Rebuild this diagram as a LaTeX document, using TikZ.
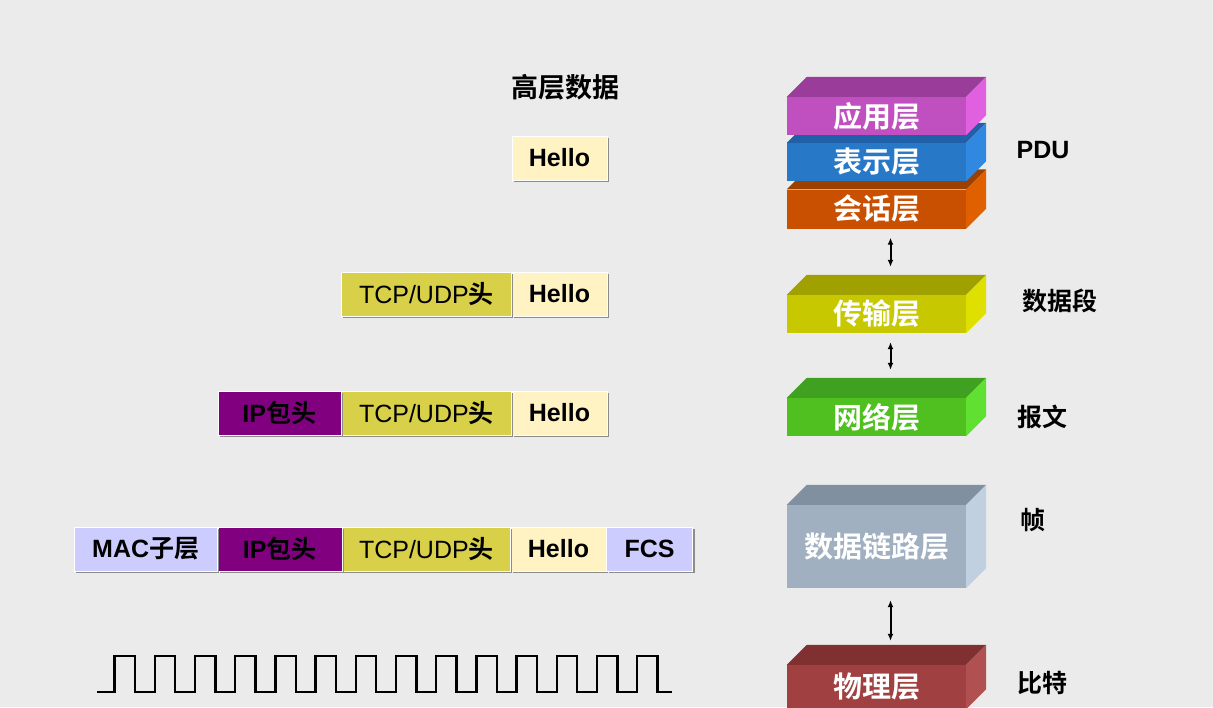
\documentclass[tikz,border=0pt]{standalone}
\usepackage{fontspec}
\setmainfont{Liberation Sans}
\newfontfamily\cjk{Noto Sans CJK SC}[BoldFont={* Bold}]
\usetikzlibrary{positioning,calc,arrows.meta}
\definecolor{bgcol}{HTML}{EBEBEB}
\definecolor{hellocol}{HTML}{FFF3C4}
\definecolor{tcpcol}{HTML}{D8D048}
\definecolor{ipcol}{HTML}{800080}
\definecolor{maccol}{HTML}{CCCCFF}
\tikzset{
  pdu/.style={
    rectangle,
    minimum height=44pt,
    inner sep=0pt,
    font=\fontsize{25}{28}\selectfont,
    draw=white, line width=0.6pt,
    },
  shadowed/.style={preaction={fill=black!45,transform canvas={shift={(2pt,-2pt)}}}},
  layerbox/.style={
    rectangle, inner sep=0pt,
    minimum width=179pt,
    text=white,
    font=\cjk\bfseries\fontsize{29}{32}\selectfont
    },
  unitlabel/.style={font=\cjk\bfseries\fontsize{25}{28}\selectfont},
  updown/.style={{Latex[length=7pt,width=6pt]}-{Latex[length=7pt,width=6pt]}, line width=2pt}
}
\newcommand\osilayer[7]{% name, position, height, front, top, side, text
  \definecolor{#1front}{HTML}{#4}\definecolor{#1top}{HTML}{#5}\definecolor{#1side}{HTML}{#6}%
  \node[layerbox,fill=#1front,minimum height=#3] (#1) at #2 {#7};
  \fill[#1top] (#1.north west) -- ++(20,-20) -- ([shift={(20,-20)}]#1.north east) -- (#1.north east) -- cycle;
  \fill[#1side] (#1.north east) -- ++(20,-20) -- ([shift={(20,-20)}]#1.south east) -- (#1.south east) -- cycle;
}
\newcommand\tcphead{TCP/UDP{\cjk\bfseries 头}}
\newcommand\iphead{\textbf{IP}{\cjk\bfseries 包头}}
\begin{document}
\begin{tikzpicture}[x=1pt,y=-1pt]
  \fill[bgcol] (0,0) rectangle (1213,707);
  \useasboundingbox (0,0) rectangle (1213,707);

  % data units
  \node[font=\cjk\bfseries\fontsize{27}{30}\selectfont] (hdata) at (565,87) {高层数据};
  \node[pdu,shadowed,fill=hellocol,minimum width=95pt] (hello1) at (559.5,158) {\textbf{Hello}};

  \node[pdu,shadowed,fill=hellocol,minimum width=95pt] (hello2) at (559.5,294) {\textbf{Hello}};
  \node[pdu,shadowed,fill=tcpcol,minimum width=170pt,left=0pt of hello2] (tcp2) {\tcphead};

  \node[pdu,shadowed,fill=hellocol,minimum width=95pt] (hello3) at (559.5,413) {\textbf{Hello}};
  \node[pdu,shadowed,fill=tcpcol,minimum width=170pt,left=0pt of hello3] (tcp3) {\tcphead};
  \node[pdu,shadowed,fill=ipcol,minimum width=123pt,left=0pt of tcp3] (ip3) {\iphead};

  \node[pdu,shadowed,fill=hellocol,minimum width=95pt] (hello4) at (558.5,549) {\textbf{Hello}};
  \node[pdu,shadowed,fill=tcpcol,minimum width=168pt,left=0pt of hello4] (tcp4) {\tcphead};
  \node[pdu,shadowed,fill=ipcol,minimum width=124pt,left=0pt of tcp4] (ip4) {\iphead};
  \node[pdu,shadowed,fill=maccol,minimum width=143pt,left=0pt of ip4] (mac4) {\textbf{MAC}{\cjk\bfseries 子层}};
  \node[pdu,shadowed,fill=maccol,minimum width=86pt,right=0pt of hello4] (fcs4) {\textbf{FCS}};

  % bit stream
  \draw[line width=2.4pt] (97,692)
    \foreach \k in {0,...,13} { -| ({114.5+40.2*\k},656) -| ({135+40.2*\k},692) } -- (672,692);

  % layers
  \osilayer{ses}{(876.5,209)}{39pt}{C85000}{9C4000}{E06000}{会话层}
  \osilayer{pre}{(876.5,162)}{38pt}{2878C8}{2060A8}{3088E0}{表示层}
  \osilayer{app}{(876.5,116)}{38pt}{C04FC0}{9A3D9A}{E060E0}{应用层}
  \osilayer{tra}{(876.5,314)}{38pt}{C8C800}{A0A000}{E0E000}{传输层}
  \osilayer{net}{(876.5,417)}{38pt}{50C020}{40A020}{60E030}{网络层}
  \osilayer{dll}{(876.5,546.5)}{83pt}{A0B0C0}{8090A0}{C0D0E0}{数据链路层}
  \osilayer{phy}{(876.5,687)}{44pt}{A04040}{803030}{B05050}{物理层}

  \draw[updown] ([xshift=14pt,yshift=-9pt]ses.south) -- ([xshift=14pt,yshift=28pt]tra.north);
  \draw[updown] ([xshift=14pt,yshift=-9pt]tra.south) -- ([xshift=14pt,yshift=28pt]net.north);
  \draw[updown] ([xshift=14pt,yshift=-12pt]dll.south) -- ([xshift=14pt,yshift=24pt]phy.north);

  % unit names
  \node[font=\bfseries\fontsize{25}{28}\selectfont] (lpdu) at (1043,150) {PDU};
  \node[unitlabel] (lseg) at (1060,301) {数据段};
  \node[unitlabel] (lpkt) at (1042,417) {报文};
  \node[unitlabel] (lfrm) at (1033,520) {帧};
  \node[unitlabel] (lbit) at (1042,683) {比特};
\end{tikzpicture}
\end{document}
